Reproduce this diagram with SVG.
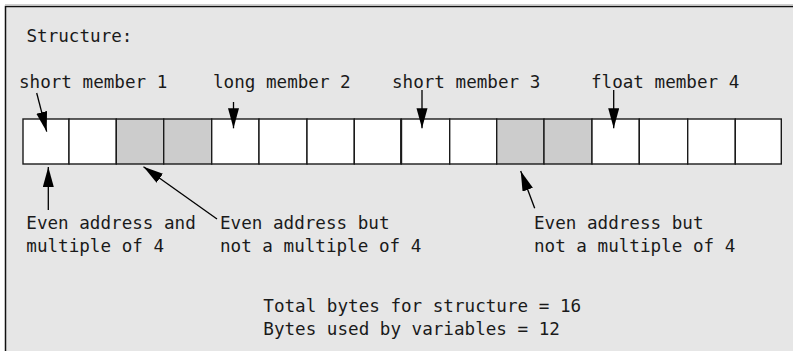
<svg xmlns="http://www.w3.org/2000/svg" width="793" height="351" viewBox="0 0 793 351">
<defs>
<style>
.t{font-family:"DejaVu Sans Mono","Liberation Mono",monospace;font-size:17.6px;fill:#1a1a1a}
.cell{fill:#ffffff;stroke:#1a1a1a;stroke-width:1.4}
.pad{fill:#cccccc;stroke:#1a1a1a;stroke-width:1.4}
.conn line{stroke:#000;stroke-width:1.3;marker-end:url(#ah)}
</style>
<marker id="ah" markerUnits="userSpaceOnUse" markerWidth="21" markerHeight="12" refX="20" refY="5.5" orient="auto">
<path d="M0,0 L20,5.5 L0,11 z" fill="#000"/>
</marker>
</defs>
<rect x="0" y="0" width="793" height="351" fill="#ffffff"/>
<rect x="5" y="6" width="788" height="345" fill="#e6e6e6"/>
<path d="M5.5,351 V6.5 H793" fill="none" stroke="#111" stroke-width="1.5"/>
<line x1="5" y1="4.5" x2="793" y2="4.5" stroke="#cfcfcf" stroke-width="1"/>

<g id="title"><text class="t" x="26.5" y="42">Structure:</text></g>

<g id="cells">
<rect class="cell" x="23" y="119" width="46" height="45"/>
<rect class="cell" x="69" y="119" width="47.3" height="45"/>
<rect class="pad" x="116.3" y="119" width="47.4" height="45"/>
<rect class="pad" x="163.7" y="119" width="48" height="45"/>
<rect class="cell" x="211.7" y="119" width="47.3" height="45"/>
<rect class="cell" x="259" y="119" width="48" height="45"/>
<rect class="cell" x="307" y="119" width="47.3" height="45"/>
<rect class="cell" x="354.3" y="119" width="46.9" height="45"/>
<rect class="cell" x="401.2" y="119" width="48.5" height="45"/>
<rect class="cell" x="449.7" y="119" width="47" height="45"/>
<rect class="pad" x="496.7" y="119" width="47.3" height="45"/>
<rect class="pad" x="544" y="119" width="48" height="45"/>
<rect class="cell" x="592" y="119" width="47.3" height="45"/>
<rect class="cell" x="639.3" y="119" width="48.4" height="45"/>
<rect class="cell" x="687.7" y="119" width="47.6" height="45"/>
<rect class="cell" x="735.3" y="119" width="46" height="45"/>
<line x1="401.2" y1="119" x2="401.2" y2="164" stroke="#1a1a1a" stroke-width="2"/>
</g>

<g id="label-m1"><text class="t" x="19" y="88">short member 1</text></g>
<g id="label-m2"><text class="t" x="213" y="88">long member 2</text></g>
<g id="label-m3"><text class="t" x="392" y="88">short member 3</text></g>
<g id="label-m4"><text class="t" x="591" y="88">float member 4</text></g>

<g id="note-even4">
<text class="t" x="26.3" y="229">Even address and</text>
<text class="t" x="26.3" y="252">multiple of 4</text>
</g>
<g id="note-even-a">
<text class="t" x="220" y="229">Even address but</text>
<text class="t" x="220" y="252">not a multiple of 4</text>
</g>
<g id="note-even-b">
<text class="t" x="534" y="229">Even address but</text>
<text class="t" x="534" y="252">not a multiple of 4</text>
</g>
<g id="totals">
<text class="t" x="263.3" y="311.5">Total bytes for structure = 16</text>
<text class="t" x="263.3" y="335">Bytes used by variables = 12</text>
</g>

<g id="connectors" class="conn">
<line x1="36.7" y1="93" x2="46.7" y2="131.7"/>
<line x1="233.5" y1="102" x2="233.5" y2="128.3"/>
<line x1="422" y1="90" x2="422" y2="128.3"/>
<line x1="613.7" y1="90" x2="613.7" y2="128.3"/>
<line x1="48.3" y1="210" x2="48.3" y2="167"/>
<line x1="217" y1="219" x2="143.5" y2="166.7"/>
<line x1="534.7" y1="208.3" x2="520.7" y2="171"/>
</g>
</svg>
